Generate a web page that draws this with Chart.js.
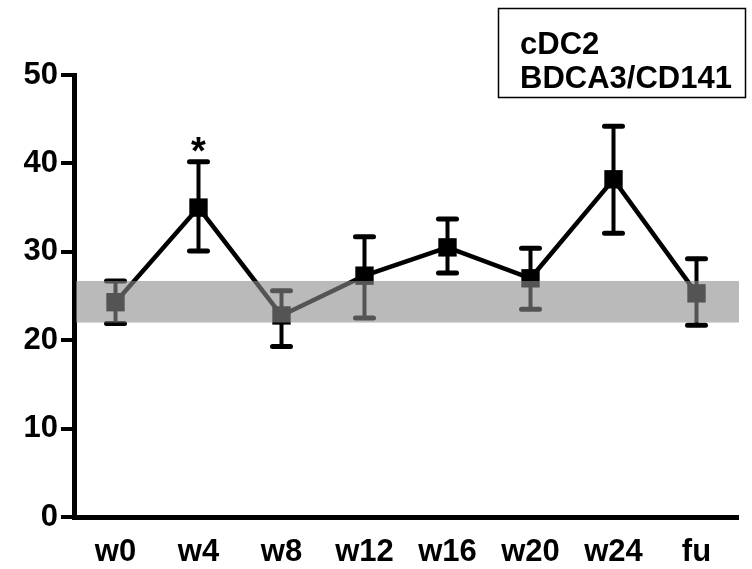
<!DOCTYPE html>
<html>
<head>
  <meta charset="UTF-8">
  <title>cDC2 BDCA3/CD141</title>
  <script src="https://cdn.jsdelivr.net/npm/chart.js"></script>
  <style>
    html, body { margin: 0; padding: 0; background: #fff; }
    #wrap { width: 752px; height: 569px; }
  </style>
</head>
<body>
  <div id="wrap"><canvas id="chart" width="752" height="569"></canvas></div>

  <script>
    // values
    const timepoints = ['w0', 'w4', 'w8', 'w12', 'w16', 'w20', 'w24', 'fu'];
    const means      = [24.3, 35.0, 22.8, 27.3, 30.5, 27.0, 38.2, 25.3];
    const errLow     = [21.9, 30.1, 19.3, 22.5, 27.6, 23.5, 32.1, 21.7];
    const errHigh    = [26.7, 40.2, 25.6, 31.7, 33.7, 30.4, 44.2, 29.2];
    const sigMarks   = ['', '*', '', '', '', '', '', ''];
    const refBand    = [22.0, 26.7];   // healthy control range
    const yTicks     = [0, 10, 20, 30, 40, 50];
    const boxLines   = ['cDC2', 'BDCA3/CD141'];

    const FONT = "'Liberation Sans', Arial, sans-serif";

    // error bars, grey reference band and the asterisk
    const extras = {
      id: 'extras',
      afterDatasetsDraw(chart) {
        const { ctx, chartArea, scales: { x, y } } = chart;
        ctx.save();
        ctx.strokeStyle = '#000';
        ctx.lineCap = 'round';
        timepoints.forEach((t, i) => {
          const px = x.getPixelForValue(i);
          const lo = y.getPixelForValue(errLow[i]);
          const hi = y.getPixelForValue(errHigh[i]);
          ctx.lineWidth = 4;
          ctx.beginPath();
          ctx.moveTo(px, lo); ctx.lineTo(px, hi);
          ctx.stroke();
          ctx.lineWidth = 5;
          ctx.beginPath();
          ctx.moveTo(px - 9, lo); ctx.lineTo(px + 9, lo);
          ctx.moveTo(px - 9, hi); ctx.lineTo(px + 9, hi);
          ctx.stroke();
        });

        // band sits on top of the data, greying what is under it
        const top = y.getPixelForValue(refBand[1]);
        const bot = y.getPixelForValue(refBand[0]);
        ctx.fillStyle = 'rgba(140,140,140,0.6)';
        ctx.fillRect(chartArea.left + 2, top, chartArea.right - chartArea.left - 1, bot - top);

        ctx.fillStyle = '#000';
        ctx.font = 'bold 38px ' + FONT;
        ctx.textAlign = 'center';
        ctx.textBaseline = 'alphabetic';
        sigMarks.forEach((m, i) => {
          if (!m) return;
          ctx.fillText(m, x.getPixelForValue(i), y.getPixelForValue(errHigh[i]) + 2);
        });
        ctx.restore();
      },
      afterDraw(chart) {
        const { ctx } = chart;
        ctx.save();
        ctx.strokeStyle = '#000';
        ctx.lineWidth = 1.5;
        ctx.strokeRect(498.5, 8.5, 247, 89);
        ctx.fillStyle = '#000';
        ctx.font = 'bold 31px ' + FONT;
        ctx.textAlign = 'left';
        ctx.textBaseline = 'alphabetic';
        ctx.fillText(boxLines[0], 520, 54);
        ctx.fillText(boxLines[1], 520, 88);
        ctx.restore();
      }
    };

    new Chart(document.getElementById('chart').getContext('2d'), {
      type: 'line',
      data: {
        labels: timepoints,
        datasets: [{
          data: means,
          borderColor: '#000',
          borderWidth: 4.5,
          pointStyle: 'rect',
          pointRadius: 13,
          pointBorderWidth: 0,
          pointBackgroundColor: '#000',
          tension: 0,
          clip: false
        }]
      },
      options: {
        responsive: false,
        animation: false,
        devicePixelRatio: 1,
        layout: { padding: { top: 75, right: 14, left: 0, bottom: 0 } },
        plugins: { legend: { display: false }, tooltip: { enabled: false } },
        scales: {
          x: {
            offset: true,
            grid: { display: false, drawTicks: false },
            border: { display: true, color: '#000', width: 5 },
            ticks: { color: '#000', padding: 17, font: { family: FONT, size: 31, weight: 'bold' } },
            afterFit(s) { s.height = 52; }
          },
          y: {
            min: 0,
            max: 50,
            afterBuildTicks(s) { s.ticks = yTicks.map(v => ({ value: v })); },
            grid: { drawOnChartArea: false, drawTicks: true, tickLength: 13, lineWidth: 4, color: '#000' },
            border: { display: true, color: '#000', width: 5 },
            ticks: { color: '#000', padding: 3, font: { family: FONT, size: 31, weight: 'bold' } },
            afterFit(s) { s.width = 74; }
          }
        }
      },
      plugins: [extras]
    });
  </script>
</body>
</html>
